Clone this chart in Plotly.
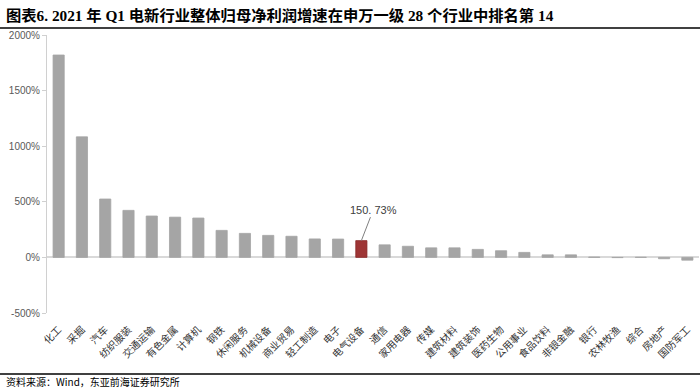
import plotly.graph_objects as go

categories = ["化工", "采掘", "汽车", "纺织服装", "交通运输", "有色金属", "计算机", "钢铁",
              "休闲服务", "机械设备", "商业贸易", "轻工制造", "电子", "电气设备", "通信",
              "家用电器", "传媒", "建筑材料", "建筑装饰", "医药生物", "公用事业", "食品饮料",
              "非银金融", "银行", "农林牧渔", "综合", "房地产", "国防军工"]
growth = [1820, 1084, 525, 423, 372, 362, 354, 243, 216, 198, 190, 166, 165, 150.73, 113,
          100, 86, 86, 72, 60, 45, 23, 23, 3, -2, 1, -12, -25]
highlight = "电气设备"
highlight_label = "150. 73%"
y_ticks = [-500, 0, 500, 1000, 1500, 2000]

colors = ["#9E3535" if c == highlight else "#A5A5A5" for c in categories]
line_colors = ["#8A2A2A" if c == highlight else "#A5A5A5" for c in categories]

fig = go.Figure(go.Bar(
    x=categories, y=growth,
    marker=dict(color=colors, line=dict(color=line_colors, width=0.8)),
    width=0.48,
))

W, H = 700, 388
L, R, T, B = 47, 1, 35, 75
pw, ph = W - L - R, H - T - B

def px_x(x):
    return (x - L) / pw

def px_y(y):
    return (H - B - y) / ph

fig.update_layout(
    width=W, height=H,
    margin=dict(l=L, r=R, t=T, b=B, autoexpand=False),
    paper_bgcolor="white", plot_bgcolor="white",
    showlegend=False,
    xaxis=dict(
        range=[-0.5, len(categories) - 0.5],
        tickangle=-45, automargin=False,
        tickfont=dict(family="Noto Sans CJK SC", size=10, color="#333333"),
        showline=False, showgrid=False,
        ticks="outside", ticklen=6, tickcolor="rgba(0,0,0,0)",
    ),
    yaxis=dict(
        range=[-500, 2000], automargin=False,
        tickvals=y_ticks,
        ticktext=[f"{v}%" for v in y_ticks],
        tickfont=dict(family="Liberation Sans, Arial", size=10, color="#595959"),
        showgrid=False,
        showline=True, linecolor="#D0D0D0", linewidth=1,
        ticks="outside", ticklen=4, tickcolor="#D0D0D0",
        zeroline=True, zerolinecolor="#D9D9D9", zerolinewidth=1.5,
    ),
    shapes=[
        dict(type="line", xref="paper", yref="paper",
             x0=px_x(0), x1=px_x(W), y0=px_y(28), y1=px_y(28),
             line=dict(color="#404040", width=2)),
        dict(type="line", xref="paper", yref="paper",
             x0=px_x(0), x1=px_x(W), y0=px_y(374), y1=px_y(374),
             line=dict(color="#404040", width=2)),
    ],
    annotations=[
        dict(xref="paper", yref="paper", x=px_x(4), y=px_y(15),
             xanchor="left", yanchor="middle", showarrow=False,
             text="<b>图表6. 2021 年 Q1 电新行业整体归母净利润增速在申万一级 28 个行业中排名第 14</b>",
             font=dict(family="Liberation Serif, Noto Sans CJK SC", size=15.3, color="#000000")),
        dict(xref="paper", yref="paper", x=px_x(4), y=px_y(381.5),
             xanchor="left", yanchor="middle", showarrow=False,
             text="资料来源：Wind，东亚前海证券研究所",
             font=dict(family="Noto Sans CJK SC", size=10, color="#000000")),
        dict(x=highlight, y=growth[categories.index(highlight)],
             text=highlight_label, showarrow=True, arrowhead=0, arrowwidth=1,
             arrowcolor="#7F7F7F", ax=12, ay=-31,
             font=dict(family="Liberation Sans, Arial", size=11, color="#404040")),
    ],
)

fig.write_html("out.html", config={"displayModeBar": False},
               post_script="document.body.style.margin='0';")
